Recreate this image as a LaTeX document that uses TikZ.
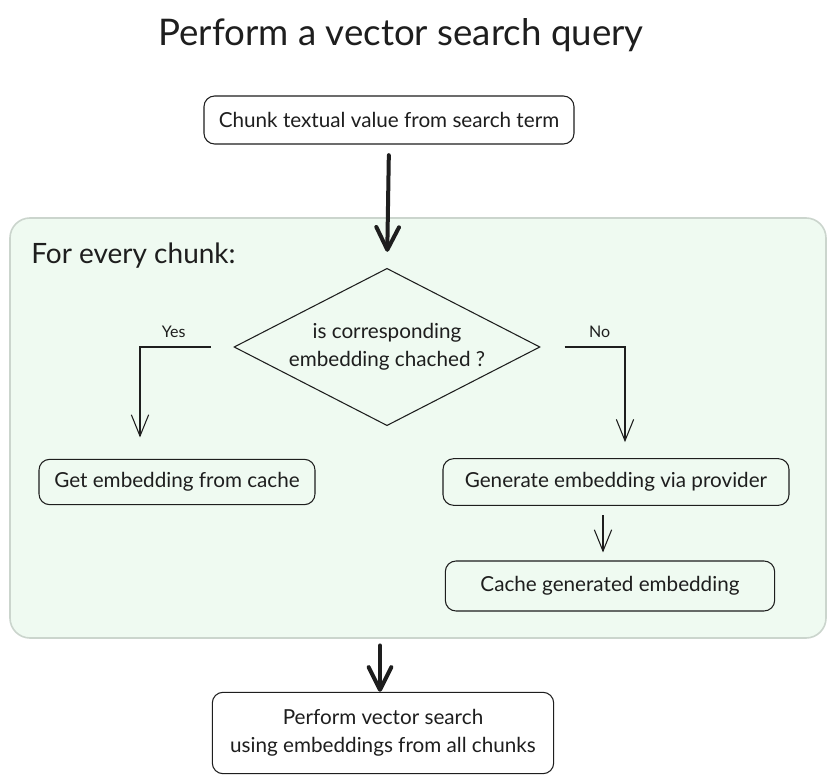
\documentclass[tikz,border=0pt]{standalone}
\usepackage{fontspec}
\setmainfont{Lato}
\usetikzlibrary{shapes.geometric,arrows.meta,calc}
\definecolor{inkgray}{HTML}{1E1E1E}
\definecolor{chunkfill}{HTML}{EFFAF1}
\definecolor{chunkline}{HTML}{CBD5CD}
\tikzset{
  stepbox/.style   = {shape=rectangle, rounded corners=8pt, draw=inkgray,
                      line width=0.8pt, align=center, font=\fontsize{15.5}{21}\selectfont,
                      text=inkgray, inner sep=0pt},
  decision/.style  = {shape=diamond, draw=inkgray, line width=0.8pt, inner sep=0pt,
                      minimum width=229.5pt, minimum height=118pt},
  thinarrow/.style = {draw=inkgray, line width=0.8pt,
                      -{Straight Barb[length=16pt,width=13pt,line width=0.8pt]}},
  thickarrow/.style= {draw=inkgray, line width=3pt, line cap=round,
                      -{Straight Barb[length=17pt,width=17pt,line width=3pt,round]}},
  branch/.style    = {font=\fontsize{12}{14}\selectfont, text=inkgray}
}
\begin{document}
\begin{tikzpicture}[x=0.75pt,y=-0.75pt]
  \useasboundingbox (0,0) rectangle (836,784);
  \fill[white] (0,0) rectangle (836,784);

  \node (title) [font=\fontsize{27.5}{32}\selectfont, text=inkgray] at (401,35) {Perform a vector search query};

  % loop over chunks
  \node (loop) [draw=chunkline, fill=chunkfill, line width=1.2pt, rounded corners=15pt,
                minimum width=612pt, minimum height=315pt, inner sep=0pt] at (418,428) {};
  \node (looplabel) [anchor=base west, inner sep=0pt, font=\fontsize{21}{24}\selectfont, text=inkgray]
    at (31,264) {For every chunk:};

  \node (chunk) [stepbox, minimum width=277.5pt, minimum height=36pt] at (389,120)
    {Chunk textual value from search term};
  \node (cached) [decision, label={[align=center, text=inkgray, font=\fontsize{15.5}{21}\selectfont]center:is corresponding\\embedding chached ?}]
    at (387,347) {};
  \node (fromcache) [stepbox, minimum width=207pt, minimum height=34pt] at (177,482)
    {Get embedding from cache};
  \node (generate) [stepbox, minimum width=259.5pt, minimum height=35pt] at (616,482)
    {Generate embedding via provider};
  \node (store) [stepbox, minimum width=247pt, minimum height=37.5pt] at (610,586)
    {Cache generated embedding};
  \node (search) [stepbox, minimum width=256pt, minimum height=61pt] at (383,733)
    {Perform vector search\\using embeddings from all chunks};

  \draw[thickarrow, shorten <=8pt, shorten >=12pt] (chunk.south) -- (cached.north);
  \draw[thinarrow, shorten <=17pt, shorten >=16pt] (cached.west) -| ($(fromcache.north)+(-37,0)$)
    node[branch, pos=0.32, above=3pt] {Yes};
  \draw[thinarrow, shorten <=18pt, shorten >=12pt] (cached.east) -| ($(generate.north)+(9,0)$)
    node[branch, pos=0.35, above=3pt] {No};
  \draw[thinarrow, shorten <=7pt, shorten >=6pt] ($(generate.south)+(-13,0)$) -- ($(store.north)+(-7,0)$);
  \draw[thickarrow, shorten <=5pt] ($(loop.south)+(-38,0)$) -- ($(search.north)+(-3,0)$);
\end{tikzpicture}
\end{document}
